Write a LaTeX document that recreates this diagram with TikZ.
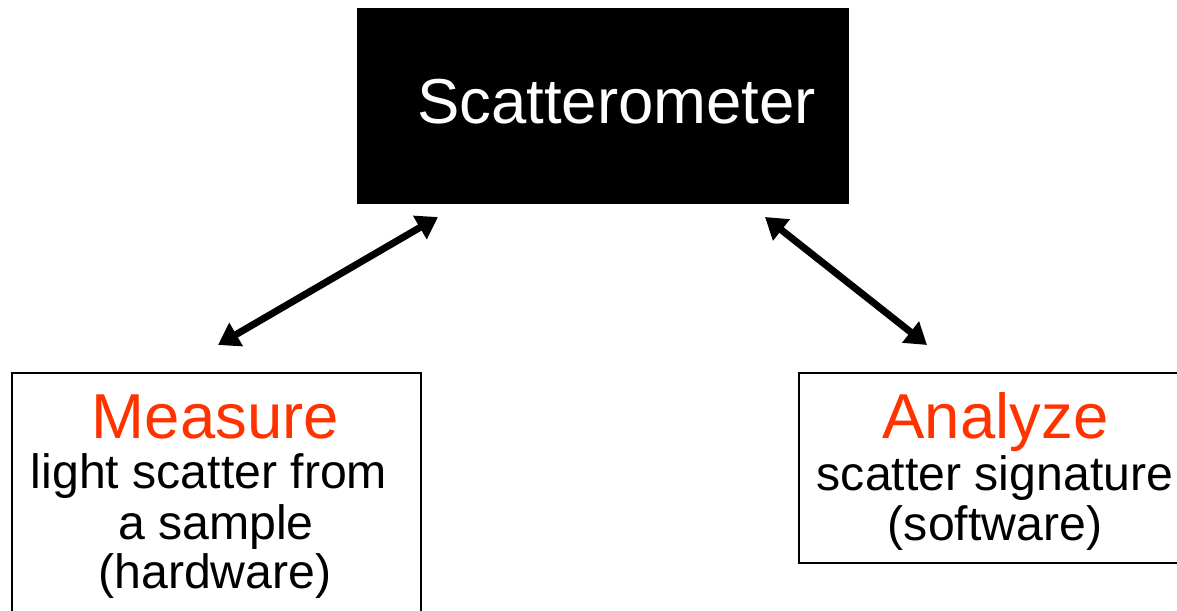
\documentclass[tikz,border=0pt]{standalone}
\usepackage{fontspec}
\setmainfont{Liberation Sans}
\usetikzlibrary{arrows.meta}
\definecolor{hot}{RGB}{255,51,0}
\tikzset{
  frame/.style={draw=black, line width=1.5pt, fill=white, inner sep=0pt, anchor=north west},
  title/.style={anchor=base, inner sep=0pt, font=\fontsize{63.5}{76}\selectfont},
  body/.style={anchor=base, inner sep=0pt, font=\fontsize{48.2}{58}\selectfont},
  link/.style={line width=7pt, {Triangle[length=21pt,width=26pt]}-{Triangle[length=21pt,width=26pt]}}
}
\begin{document}
\begin{tikzpicture}[x=1pt,y=-1pt]
\useasboundingbox (0,0) rectangle (1177,610);
\clip (0,0) rectangle (1177,610);
\fill[white] (0,0) rectangle (1177,610);
% top box
\node[frame, fill=black, minimum width=490pt, minimum height=194pt] (scat) at (357,8) {};
\node[title, text=white] (scattxt) at (616.5,123) {Scatterometer};
% left box
\node[frame, minimum width=409pt, minimum height=260pt] (meas) at (11,372) {};
\node[title, text=hot] (meastxt) at (215.5,438) {Measure};
\node[body] (m1) at (209,488) {light scatter from};
\node[body] (m2) at (216,539) {a sample};
\node[body] (m3) at (215,588) {(hardware)};
% right box
\node[frame, minimum width=400pt, minimum height=190pt] (anal) at (798,372) {};
\node[title, text=hot] (analtxt) at (995.5,438) {Analyze};
\node[body] (a1) at (995,490) {scatter signature};
\node[body] (a2) at (995,540) {(software)};
% arrows
\coordinate (l1) at (218,345);
\coordinate (l2) at (438,217);
\coordinate (r1) at (765,217);
\coordinate (r2) at (927,345);
\draw[link] (l1) -- (l2);
\draw[link] (r1) -- (r2);
\end{tikzpicture}
\end{document}
